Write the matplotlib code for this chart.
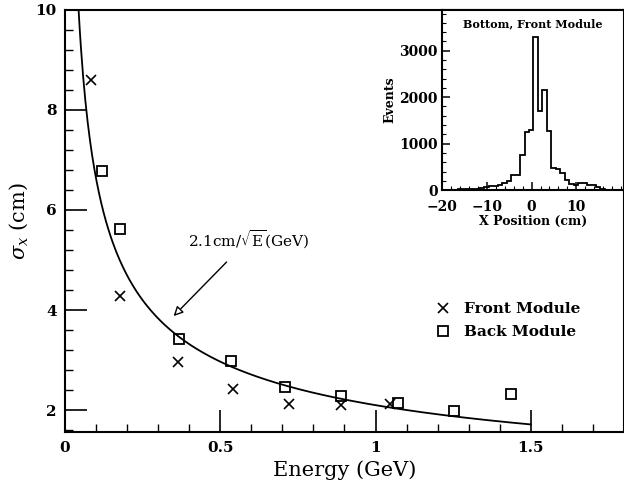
import numpy as np
import matplotlib
matplotlib.use('Agg')
import matplotlib.pyplot as plt
from matplotlib.ticker import MultipleLocator

plt.rcParams['font.family'] = 'DejaVu Serif'
plt.rcParams['mathtext.fontset'] = 'dejavuserif'

# main plot data (GeV, cm)
front_E = [0.083, 0.177, 0.363, 0.542, 0.72, 0.89, 1.047]
front_sig = [8.6, 4.29, 2.97, 2.42, 2.13, 2.1, 2.13]
back_E = [0.12, 0.176, 0.366, 0.534, 0.708, 0.89, 1.074, 1.252, 1.437]
back_sig = [6.77, 5.62, 3.42, 2.98, 2.47, 2.28, 2.14, 1.98, 2.33]
fit_coef = 2.1

# inset histogram (bin left edges in cm, counts)
hist_left = [-19.6, -18.6, -17.6, -16.6, -15.6, -14.6, -13.6, -12.6, -11.6, -10.6,
             -9.6, -8.6, -7.6, -6.6, -5.6, -4.6, -3.6, -2.6, -1.6, -0.6,
             0.4, 1.4, 2.4, 3.4, 4.4, 5.4, 6.4, 7.4, 8.4, 9.4,
             10.4, 11.4, 12.4, 13.4, 14.4, 15.4, 16.4, 17.4, 18.4]
hist_counts = [0, 10, 10, 20, 20, 20, 30, 30, 40, 60,
               80, 80, 100, 150, 200, 320, 320, 750, 1260, 1300,
               3290, 1700, 2150, 1270, 480, 450, 370, 220, 140, 100,
               160, 160, 110, 100, 60, 20, 10, 0, 0]

fig = plt.figure(figsize=(6.24, 4.90), dpi=100)
ax = fig.add_axes([0.104, 0.118, 0.896, 0.862])

E = np.linspace(fit_coef**2 / 100.0, 1.5, 400)
ax.plot(E, fit_coef / np.sqrt(E), color='black', lw=1.3)
ax.plot(front_E, front_sig, 'x', color='black', ms=7, mew=1.2, label='Front Module')
ax.plot(back_E, back_sig, 's', mfc='none', mec='black', ms=7, mew=1.3, label='Back Module')

ax.set_xlim(0, 1.8)
ax.set_ylim(1.56, 10)
ax.xaxis.set_minor_locator(MultipleLocator(0.1))
ax.yaxis.set_major_locator(MultipleLocator(2))
ax.yaxis.set_minor_locator(MultipleLocator(0.4))
ax.set_xticks([0, 0.5, 1, 1.5])
ax.set_xticklabels(['0', '0.5', '1', '1.5'])
ax.tick_params(which='major', direction='in', length=16, width=1.2, labelsize=11, pad=6)
ax.tick_params(which='minor', direction='in', length=6, width=1)
ax.tick_params(top=False, right=False)
for lab in ax.get_xticklabels() + ax.get_yticklabels():
    lab.set_fontweight('bold')
for s in ax.spines.values():
    s.set_linewidth(1.5)
ax.set_xlabel('Energy (GeV)', fontsize=15)
ax.set_ylabel(r'$\sigma_x$ (cm)', fontsize=15)

ax.annotate(r'2.1cm/$\sqrt{\rm E}$(GeV)', xy=(0.35, 3.88), xytext=(0.59, 5.4),
            ha='center', va='center', fontsize=11,
            arrowprops=dict(arrowstyle='-|>', color='black', lw=1.0,
                            fc='white', shrinkA=8, shrinkB=0, mutation_scale=14))

ax.legend(loc='upper left', bbox_to_anchor=(0.64, 0.34), frameon=False,
          handlelength=0.8, handletextpad=1.0, labelspacing=0.6,
          prop={'weight': 'bold', 'size': 11})

# inset
ins = fig.add_axes([0.709, 0.612, 0.291, 0.368])
ins.stairs(hist_counts, hist_left + [hist_left[-1] + 1.0], color='black', lw=1.3)
ins.set_xlim(-20, 20.7)
ins.set_ylim(0, 3880)
ins.set_xticks([-20, -10, 0, 10])
ins.xaxis.set_minor_locator(MultipleLocator(2))
ins.yaxis.set_major_locator(MultipleLocator(1000))
ins.yaxis.set_minor_locator(MultipleLocator(200))
ins.tick_params(which='major', direction='in', length=6, width=1.1, labelsize=10)
ins.tick_params(axis='x', which='major', pad=7)
ins.tick_params(which='minor', direction='in', length=3, width=0.8)
for lab in ins.get_xticklabels() + ins.get_yticklabels():
    lab.set_fontweight('bold')
for s in ins.spines.values():
    s.set_linewidth(1.5)
ins.set_xlabel('X Position (cm)', fontsize=9, fontweight='bold', labelpad=1)
ins.set_ylabel('Events', fontsize=9, fontweight='bold', labelpad=2)
ins.text(0.5, 0.95, 'Bottom, Front Module', transform=ins.transAxes,
         ha='center', va='top', fontsize=8, fontweight='bold')

fig.savefig('out.png', dpi=100)
